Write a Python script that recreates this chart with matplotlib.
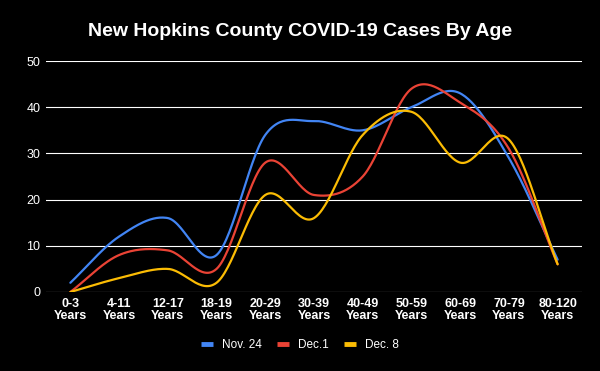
import numpy as np
from matplotlib import pyplot as plt
from matplotlib.lines import Line2D

# Chart data.
ages = ["0-3\nYears", "4-11\nYears", "12-17\nYears", "18-19\nYears", "20-29\nYears",
        "30-39\nYears", "40-49\nYears", "50-59\nYears", "60-69\nYears", "70-79\nYears",
        "80-120\nYears"]
nov24 = [2, 12, 16, 8, 34, 37, 35, 40, 43, 29, 7]
dec1 = [0, 8, 9, 5, 28, 21, 25, 44, 41, 31, 6]
dec8 = [0, 3, 5, 2, 21, 16, 34, 39, 28, 33, 6]
series = [("Nov. 24", nov24, "#4285F4"),
          ("Dec.1", dec1, "#EA4335"),
          ("Dec. 8", dec8, "#FBBC04")]
yticks = [0, 10, 20, 30, 40, 50]


# Smooth curve through the points (Catmull-Rom), like the sheet's smoothed lines.
def Smooth(y, n=30):
    y = np.asarray(y, dtype=float)
    p = np.concatenate(([2*y[0]-y[1]], y, [2*y[-1]-y[-2]]))
    xs = []; ys = []
    for i in range(len(y)-1):
        p0, p1, p2, p3 = p[i], p[i+1], p[i+2], p[i+3]
        t = np.linspace(0, 1, n, endpoint=False)
        v = 0.5*((2*p1) + (-p0+p2)*t + (2*p0-5*p1+4*p2-p3)*t**2 + (-p0+3*p1-3*p2+p3)*t**3)
        xs.append(i+t); ys.append(v)
    xs.append([len(y)-1]); ys.append([y[-1]])
    return np.concatenate(xs), np.concatenate(ys)


plt.rcParams['font.family'] = ['Liberation Sans', 'DejaVu Sans']

fig = plt.figure(figsize=(6, 3.71), dpi=100, facecolor="black")
ax = fig.add_axes([46/600, 1-292/371, 536/600, 231/371], facecolor="black")

for name, vals, col in series:
    xs, ys = Smooth(vals)
    ax.plot(xs, ys, color=col, linewidth=1.6, solid_capstyle="round")

ax.set_xlim(-0.5, len(ages)-0.5)
ax.set_ylim(0, 50)
ax.set_yticks(yticks)
ax.set_xticks(range(len(ages)))
ax.set_xticklabels(ages, fontsize=9, fontweight="bold", color="white", linespacing=1.1)
ax.tick_params(axis="y", colors="white", labelsize=9, length=0, pad=4)
ax.tick_params(axis="x", length=0, pad=4)
ax.grid(axis="y", color="white", linewidth=0.8)
ax.set_axisbelow(True)
for s in ax.spines.values():
    s.set_visible(False)

fig.text(0.5, 1-32/371, "New Hopkins County COVID-19 Cases By Age", ha="center", va="center",
         color="white", fontsize=14, fontweight="bold")

handles = [Line2D([], [], color=c, linewidth=3.5, solid_capstyle="butt") for _, _, c in series]
leg = fig.legend(handles, [s[0] for s in series], loc="center", bbox_to_anchor=(0.5, 1-345/371),
                 ncol=3, frameon=False, fontsize=8.5, handlelength=1.0, columnspacing=1.3,
                 handletextpad=0.75)
for t in leg.get_texts():
    t.set_color("white")

fig.savefig("out.png", dpi=100, facecolor="black")
